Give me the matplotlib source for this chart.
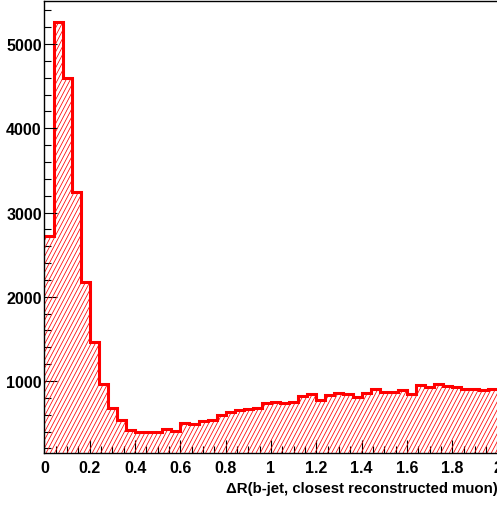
import numpy as np
import matplotlib
matplotlib.use('Agg')
import matplotlib.pyplot as plt
from matplotlib.collections import LineCollection
from matplotlib.ticker import MultipleLocator

plt.rcParams['font.family'] = ['Liberation Sans', 'DejaVu Sans']
plt.rcParams['font.weight'] = 'bold'

# dR between b-jet and closest reconstructed muon, 50 bins of width 0.04
bin_lo = 0.0
bin_width = 0.04
counts = [2718, 5265, 4597, 3240, 2175, 1466, 964, 676, 537, 422,
          395, 390, 390, 430, 406, 505, 493, 530, 537, 593,
          632, 660, 668, 680, 735, 747, 735, 754, 822, 850,
          775, 837, 860, 850, 814, 860, 900, 872, 872, 895,
          842, 956, 932, 966, 935, 930, 901, 901, 893, 905]
x_title = 'ΔR(b-jet, closest reconstructed muon)'
x_ticks = [0, 0.2, 0.4, 0.6, 0.8, 1.0, 1.2, 1.4, 1.6, 1.8, 2.0]
x_ticklabels = ['0', '0.2', '0.4', '0.6', '0.8', '1', '1.2', '1.4', '1.6', '1.8', '2']
y_ticks = [1000, 2000, 3000, 4000, 5000]

edges = bin_lo + bin_width * np.arange(len(counts) + 1)

fig = plt.figure(figsize=(4.97, 5.06), dpi=100)
ax = fig.add_axes([0.0895, 0.1028, 0.9115, 0.893])
ax.set_xlim(0, 2)
ax.set_ylim(145, 5510)

# filled area (invisible) used as the clip region for the hatching
area = ax.stairs(counts, edges, baseline=0, fill=True,
                 facecolor='none', edgecolor='none')

# ROOT-like steep hatching
W = 0.9115 * 497
H = 0.893 * 506
step = 4.2
slope = 1.9
x0s = np.arange(-H / slope, W + step, step)
segs = [[(x / W, 0), ((x + H / slope) / W, 1)] for x in x0s]
hatch = LineCollection(segs, colors='#ff0000', linewidths=0.55,
                       transform=ax.transAxes)
hatch.set_clip_path(area)
ax.add_collection(hatch)

ax.stairs(counts, edges, baseline=None, color='#ff0000', linewidth=2.2)

ax.set_xticks(x_ticks)
ax.set_xticklabels(x_ticklabels)
ax.set_yticks(y_ticks)
ax.xaxis.set_minor_locator(MultipleLocator(0.05))
ax.yaxis.set_minor_locator(MultipleLocator(200))
ax.tick_params(which='both', direction='in', top=False, right=False,
               width=0.8, labelsize=11.5)
ax.tick_params(axis='x', which='major', length=9.5, pad=5)
ax.tick_params(axis='y', which='major', length=9.5, pad=2)
ax.tick_params(which='minor', length=4.8)

for s in ax.spines.values():
    s.set_linewidth(1.0)
ax.spines['right'].set_visible(False)

ax.set_xlabel(x_title, fontsize=10.8, fontweight='bold')
ax.xaxis.label.set_horizontalalignment('right')
ax.xaxis.label.set_verticalalignment('baseline')
ax.xaxis.set_label_coords(1.0, -0.0863)

fig.savefig('out.png', dpi=100)
